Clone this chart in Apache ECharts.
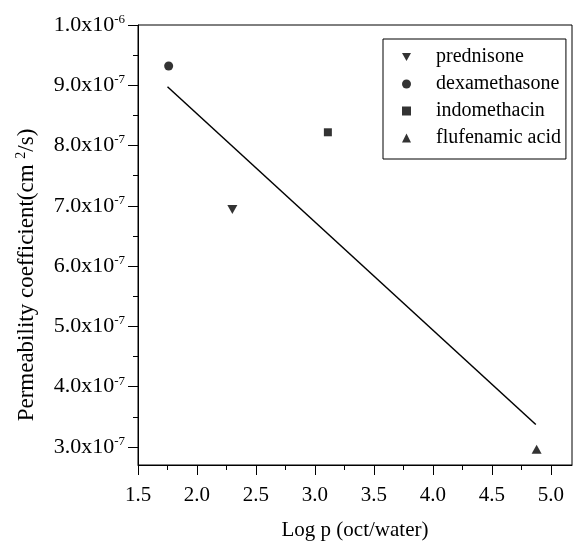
<!DOCTYPE html>
<html>
<head>
<meta charset="utf-8">
<script src="https://cdn.jsdelivr.net/npm/echarts@6/dist/echarts.min.js"></script>
<style>
  html, body { margin: 0; padding: 0; background: #fff; }
  #main { width: 575px; height: 547px; }
</style>
</head>
<body>
<div id="main"></div>
<script>
// data
const seriesNames = ['prednisone', 'dexamethasone', 'indomethacin', 'flufenamic acid'];
const logP = [2.30, 1.76, 3.11, 4.88];
const permeability = [6.94e-7, 9.32e-7, 8.22e-7, 2.96e-7];
// fitted line end points
const fitX = [1.75, 4.873];
const fitY = [8.976e-7, 3.372e-7];

// tick labels
const xTicks = [1.5, 2.0, 2.5, 3.0, 3.5, 4.0, 4.5, 5.0];
const xMinorTicks = [1.75, 2.25, 2.75, 3.25, 3.75, 4.25, 4.75];
const yTicks = [3e-7, 4e-7, 5e-7, 6e-7, 7e-7, 8e-7, 9e-7, 1e-6];
const yMinorTicks = [3.5e-7, 4.5e-7, 5.5e-7, 6.5e-7, 7.5e-7, 8.5e-7, 9.5e-7];
const yTickMantissa = ['3.0', '4.0', '5.0', '6.0', '7.0', '8.0', '9.0', '1.0'];
const yTickExp = ['-7', '-7', '-7', '-7', '-7', '-7', '-7', '-6'];

const font = 'Liberation Serif';
// symbols for each compound
const symbols = [
    'path://M0,0L2,0L1,1.732Z',   // down triangle
    'circle',
    'rect',
    'triangle'
];
const symbolSizes = [[10, 9], 9, 8, [10, 9]];

let chart = echarts.init(document.getElementById('main'));

function yLabel(value) {
    let idx = yTicks.findIndex(function (t) { return Math.abs(t - value) < 1e-10; });
    if (idx < 0) return '';
    return '{m|' + yTickMantissa[idx] + 'x10}{s|' + yTickExp[idx] + '}';
}

let scatterSeries = seriesNames.map(function (name, i) {
    return {
        name: name,
        type: 'scatter',
        symbol: symbols[i],
        symbolSize: symbolSizes[i],
        itemStyle: { color: '#000' },
        data: [[logP[i], permeability[i]]]
    };
});

let option = {
    animation: false,
    backgroundColor: '#fff',
    grid: {
        left: 138, right: 3, top: 25, bottom: 82,
        show: true,
        borderColor: '#000',
        borderWidth: 1
    },
    legend: {
        data: seriesNames,
        orient: 'vertical',
        left: 383,
        top: 39,
        padding: [8, 5, 11, 19],
        itemGap: 7,
        itemWidth: 9,
        itemHeight: 9,
        borderColor: '#000',
        borderWidth: 1,
        textStyle: { fontFamily: font, fontSize: 20, color: '#000', padding: [0, 0, 0, 20] }
    },
    xAxis: [{
        type: 'value',
        min: 1.5,
        max: 5.18,
        splitLine: { show: false },
        axisLine: { onZero: false, lineStyle: { color: '#000', width: 1 } },
        axisTick: { customValues: xTicks, length: 10, lineStyle: { color: '#000' } },
        axisLabel: {
            customValues: xTicks,
            margin: 20,
            fontFamily: font, fontSize: 21, color: '#000',
            formatter: function (v) { return v.toFixed(1); }
        },
        name: 'Log p (oct/water)',
        nameLocation: 'middle',
        nameGap: 55,
        nameTextStyle: { fontFamily: font, fontSize: 21, color: '#000' }
    }, {
        // minor ticks only
        type: 'value', min: 1.5, max: 5.18, position: 'bottom',
        axisLine: { show: false }, splitLine: { show: false }, axisLabel: { show: false },
        axisTick: { customValues: xMinorTicks, length: 5, lineStyle: { color: '#000' } }
    }],
    yAxis: [{
        type: 'value',
        min: 2.7e-7,
        max: 1e-6,
        splitLine: { show: false },
        axisLine: { onZero: false, lineStyle: { color: '#000', width: 1 } },
        axisTick: { customValues: yTicks, length: 10, lineStyle: { color: '#000' } },
        axisLabel: {
            customValues: yTicks,
            margin: 13,
            formatter: yLabel,
            rich: {
                m: { fontFamily: font, fontSize: 22, color: '#000', lineHeight: 24 },
                s: { fontFamily: font, fontSize: 13, color: '#000', verticalAlign: 'top', lineHeight: 24, padding: [0, 0, 12, 0] }
            }
        },
        name: '{a|Permeability coefficient(cm }{s|2}{a|/s)}',
        nameLocation: 'middle',
        nameGap: 98,
        nameTextStyle: {
            padding: [0, 60, 0, 0],
            rich: {
                a: { fontFamily: font, fontSize: 23, color: '#000', lineHeight: 26 },
                s: { fontFamily: font, fontSize: 14, color: '#000', verticalAlign: 'top', lineHeight: 26, padding: [0, 0, 12, 0] }
            }
        }
    }, {
        // minor ticks only
        type: 'value', min: 2.7e-7, max: 1e-6, position: 'left',
        axisLine: { show: false }, splitLine: { show: false }, axisLabel: { show: false },
        axisTick: { customValues: yMinorTicks, length: 5, lineStyle: { color: '#000' } }
    }],
    series: scatterSeries.concat([{
        name: 'fit',
        type: 'line',
        symbol: 'none',
        silent: true,
        lineStyle: { color: '#000', width: 1.5 },
        data: fitX.map(function (x, i) { return [x, fitY[i]]; })
    }])
};

chart.setOption(option);
</script>
</body>
</html>
